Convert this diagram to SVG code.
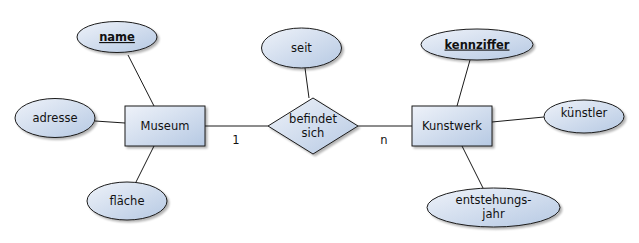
<svg xmlns="http://www.w3.org/2000/svg" width="639" height="243" viewBox="0 0 639 243">
<defs>
<linearGradient id="g" x1="0" y1="0" x2="1" y2="1">
<stop offset="0" stop-color="#eef2f9"/>
<stop offset="1" stop-color="#b6c9e3"/>
</linearGradient>
<filter id="sh" x="-20%" y="-20%" width="150%" height="150%">
<feGaussianBlur in="SourceAlpha" stdDeviation="1"/>
<feOffset dx="2" dy="2" result="o"/>
<feComponentTransfer><feFuncA type="linear" slope="0.3"/></feComponentTransfer>
<feMerge><feMergeNode/><feMergeNode in="SourceGraphic"/></feMerge>
</filter>
</defs>
<style>
.s{fill:url(#g);stroke:#1a1a1a;stroke-width:1;filter:url(#sh)}
.l{stroke:#1a1a1a;stroke-width:1;fill:none}
text{font-family:"DejaVu Sans",sans-serif;font-size:11.5px;fill:#111;text-anchor:middle}
.k{font-weight:bold;text-decoration:underline}
</style>
<rect width="639" height="243" fill="#fff"/>
<g id="connectors">
<line class="l" x1="128" y1="55" x2="154" y2="106"/>
<line class="l" x1="95" y1="121" x2="125" y2="123"/>
<line class="l" x1="154" y1="146" x2="136" y2="182"/>
<line class="l" x1="205" y1="126" x2="268" y2="126"/>
<line class="l" x1="305" y1="68" x2="309" y2="98"/>
<line class="l" x1="358" y1="126" x2="412" y2="126"/>
<line class="l" x1="470" y1="60" x2="457" y2="106"/>
<line class="l" x1="492" y1="122" x2="544" y2="117"/>
<line class="l" x1="462" y1="146" x2="483" y2="188"/>
<text x="236" y="144">1</text>
<text x="384" y="144">n</text>
</g>
<g id="name"><ellipse class="s" cx="117" cy="37" rx="40" ry="15.5"/><text class="k" x="117" y="41">name</text></g>
<g id="adresse"><ellipse class="s" cx="55" cy="118" rx="40" ry="19.5"/><text x="55" y="122">adresse</text></g>
<g id="museum"><rect class="s" x="125" y="106" width="80" height="40"/><text x="165" y="130">Museum</text></g>
<g id="flaeche"><ellipse class="s" cx="127" cy="201" rx="40" ry="19"/><text x="127" y="205">fläche</text></g>
<g id="seit"><ellipse class="s" cx="301.5" cy="48" rx="40" ry="20"/><text x="301.5" y="52">seit</text></g>
<g id="befindet"><polygon class="s" points="313,98 358,126 313,154 268,126"/><text x="313" y="123">befindet</text><text x="313" y="137">sich</text></g>
<g id="kennziffer"><ellipse class="s" cx="477" cy="44.5" rx="56" ry="15.5"/><text class="k" x="477" y="48.5">kennziffer</text></g>
<g id="kunstwerk"><rect class="s" x="412" y="106" width="80" height="40"/><text x="452" y="130">Kunstwerk</text></g>
<g id="kuenstler"><ellipse class="s" cx="584" cy="116.5" rx="40" ry="16.5"/><text x="584" y="117">künstler</text></g>
<g id="entstehungsjahr"><ellipse class="s" cx="493.5" cy="207.5" rx="66.5" ry="19.5"/><text x="493.5" y="204">entstehungs-</text><text x="493.5" y="218">jahr</text></g>
</svg>
